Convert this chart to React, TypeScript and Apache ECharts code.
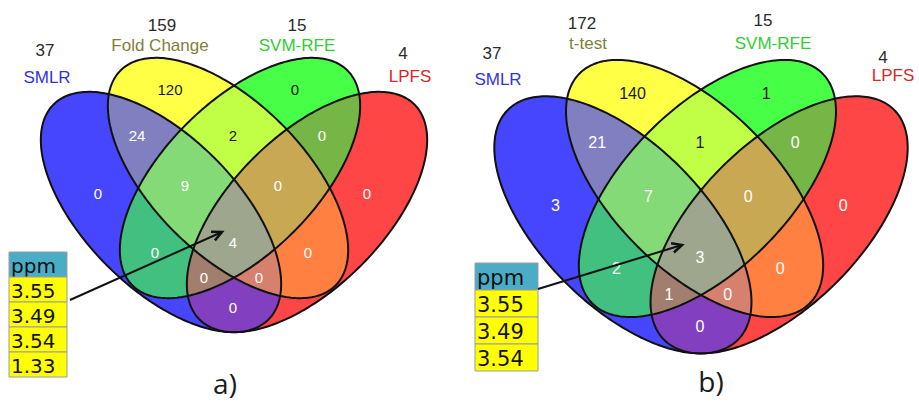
import { useEffect, useRef } from "react";
import * as echarts from "echarts";

// Membership bits: SMLR = 1, second filter = 2, SVM-RFE = 4, LPFS = 8
const regionMasks = [1, 2, 4, 8, 3, 6, 12, 5, 10, 9, 7, 14, 13, 11, 15];
const countsA = [0, 120, 0, 0, 24, 2, 0, 0, 0, 0, 9, 0, 0, 0, 4];
const countsB = [3, 140, 1, 0, 21, 1, 0, 2, 0, 0, 7, 0, 1, 0, 3];

const setNamesA = ["SMLR", "Fold Change", "SVM-RFE", "LPFS"];
const setNamesB = ["SMLR", "t-test", "SVM-RFE", "LPFS"];
const setTotalsA = [37, 159, 15, 4];
const setTotalsB = [37, 172, 15, 4];

const ppmA = ["3.55", "3.49", "3.54", "1.33"];
const ppmB = ["3.55", "3.49", "3.54"];
const tableHeader = "ppm";
const panelTags = ["a)", "b)"];

// ---- layout (base geometry in panel-a pixels) ----
const AXIS = 234;
const ELL_A = 152;
const ELL_B = 76;
const ellipses = [
  { dx: -73, cy: 212, rot: 45 },
  { dx: -6, cy: 178, rot: 45 },
  { dx: 6, cy: 178, rot: 135 },
  { dx: 73, cy: 212, rot: 135 },
];

const regionColor: Record<number, string> = {
  1: "#4646FF",
  2: "#FFFF46",
  4: "#46FF46",
  8: "#FF4646",
  3: "#8080C0",
  6: "#C0FF46",
  12: "#76B646",
  5: "#42C080",
  10: "#FF8040",
  9: "#8240C0",
  7: "#84DA76",
  14: "#C8A852",
  13: "#A27E6E",
  11: "#D6806E",
  15: "#9EA68E",
};
const darkLabelMasks = [2, 4, 6];

const regionLabelPos: Record<number, [number, number]> = {
  1: [98, 193],
  2: [170, 89],
  4: [295, 89],
  8: [367, 193],
  3: [137, 135],
  6: [233, 135],
  12: [322, 135],
  5: [155, 252],
  10: [308, 252],
  9: [233, 307],
  7: [185, 185],
  14: [278, 185],
  13: [204, 277],
  11: [259, 277],
  15: [233, 242],
};

const nameColors = ["#3232E6", "#7F7F3A", "#33CC33", "#D42A2A"];

type Pt = [number, number];

const panels = [
  {
    ox: AXIS,
    oy: 0,
    s: 1,
    counts: countsA,
    names: setNamesA,
    totals: setTotalsA,
    ppm: ppmA,
    totalPos: [[45, 50], [162, 25], [297, 25], [403, 53]] as Pt[],
    namePos: [[47, 77], [160, 45], [297, 45], [410, 76]] as Pt[],
    table: { x: 9, y: 252, w: 58, h: 25, font: 20 },
    arrow: { from: [70, 300] as Pt, to: [222, 232] as Pt },
    tag: { x: 225, y: 383 },
  },
  {
    ox: 701,
    oy: -2,
    s: 1.07,
    counts: countsB,
    names: setNamesB,
    totals: setTotalsB,
    ppm: ppmB,
    totalPos: [[492, 53], [582, 23], [763, 20], [883, 57]] as Pt[],
    namePos: [[498, 79], [588, 43], [773, 43], [893, 75]] as Pt[],
    table: { x: 475, y: 263, w: 63, h: 27, font: 21 },
    arrow: { from: [538, 289] as Pt, to: [682, 245] as Pt },
    tag: { x: 711, y: 381 },
  },
];

function ellipsePoints(cx: number, cy: number, a: number, b: number, deg: number, n = 260): Pt[] {
  const r = (deg * Math.PI) / 180;
  const c = Math.cos(r);
  const s = Math.sin(r);
  const pts: Pt[] = [];
  for (let i = 0; i < n; i++) {
    const t = (2 * Math.PI * i) / n;
    const x = a * Math.cos(t);
    const y = b * Math.sin(t);
    pts.push([cx + x * c - y * s, cy + x * s + y * c]);
  }
  return pts;
}

// Sutherland–Hodgman clipping against a convex polygon
function clipPolygon(subject: Pt[], clip: Pt[]): Pt[] {
  let out = subject;
  for (let i = 0; i < clip.length && out.length; i++) {
    const p = clip[i];
    const q = clip[(i + 1) % clip.length];
    const side = (r: Pt) => (q[0] - p[0]) * (r[1] - p[1]) - (q[1] - p[1]) * (r[0] - p[0]);
    const input = out;
    out = [];
    for (let j = 0; j < input.length; j++) {
      const cur = input[j];
      const prev = input[(j + input.length - 1) % input.length];
      const sc = side(cur);
      const sp = side(prev);
      const cross = (): Pt => {
        const t = sp / (sp - sc);
        return [prev[0] + t * (cur[0] - prev[0]), prev[1] + t * (cur[1] - prev[1])];
      };
      if (sc >= 0) {
        if (sp < 0) out.push(cross());
        out.push(cur);
      } else if (sp >= 0) {
        out.push(cross());
      }
    }
  }
  return out;
}

const bitCount = (m: number) => (m & 1) + ((m >> 1) & 1) + ((m >> 2) & 1) + ((m >> 3) & 1);

function text(x: number, y: number, str: string, fill: string, size: number, family = "Liberation Sans, Arial, sans-serif", align = "center") {
  return {
    type: "text",
    x,
    y,
    silent: true,
    style: {
      text: str,
      fill,
      fontSize: size,
      fontFamily: family,
      textAlign: align,
      textVerticalAlign: "middle",
      align,
      verticalAlign: "middle",
    },
  };
}

function buildPanel(p: (typeof panels)[number]) {
  const els: any[] = [];
  const tx = (x: number) => p.ox + (x - AXIS) * p.s;
  const ty = (y: number) => p.oy + y * p.s;

  const polys = ellipses.map((e) =>
    ellipsePoints(p.ox + e.dx * p.s, ty(e.cy), ELL_A * p.s, ELL_B * p.s, e.rot)
  );

  // filled regions, painted from single sets up to the four-way overlap
  const order = [...regionMasks].sort((a, b) => bitCount(a) - bitCount(b));
  order.forEach((mask) => {
    let poly: Pt[] | null = null;
    for (let i = 0; i < 4; i++) {
      if (!(mask & (1 << i))) continue;
      poly = poly ? clipPolygon(poly, polys[i]) : polys[i];
    }
    if (poly && poly.length > 2) {
      els.push({
        type: "polygon",
        silent: true,
        shape: { points: poly },
        style: { fill: regionColor[mask], stroke: regionColor[mask], lineWidth: 0.5 },
      });
    }
  });

  // outlines
  polys.forEach((poly) => {
    els.push({
      type: "polygon",
      silent: true,
      shape: { points: poly },
      style: { fill: "none", stroke: "#111111", lineWidth: 2 },
    });
  });

  // region counts
  regionMasks.forEach((mask, i) => {
    const [lx, ly] = regionLabelPos[mask];
    const fill = darkLabelMasks.includes(mask) ? "#1a1a1a" : "#ffffff";
    els.push(text(tx(lx), ty(ly), String(p.counts[i]), fill, 15 * p.s));
  });

  // set totals and names
  p.names.forEach((name, i) => {
    els.push(text(p.totalPos[i][0], p.totalPos[i][1], String(p.totals[i]), "#2b2b2b", 17));
    els.push(text(p.namePos[i][0], p.namePos[i][1], name, nameColors[i], 17));
  });

  // ppm table
  const t = p.table;
  const rows = [tableHeader, ...p.ppm];
  rows.forEach((label, r) => {
    els.push({
      type: "rect",
      silent: true,
      shape: { x: t.x, y: t.y + r * t.h, width: t.w, height: t.h },
      style: { fill: r === 0 ? "#4BACC6" : "#FFFF00", stroke: "#9c9c9c", lineWidth: 1 },
    });
    els.push(
      text(t.x + 2, t.y + r * t.h + t.h / 2 + 1, label, "#111111", t.font, "DejaVu Sans, Verdana, sans-serif", "left")
    );
  });

  // arrow from table to the shared region
  const { from, to } = p.arrow;
  els.push({
    type: "line",
    silent: true,
    shape: { x1: from[0], y1: from[1], x2: to[0], y2: to[1] },
    style: { stroke: "#111111", lineWidth: 2 },
  });
  const ang = Math.atan2(to[1] - from[1], to[0] - from[0]);
  const hl = 11;
  const spread = 0.45;
  els.push({
    type: "polyline",
    silent: true,
    shape: {
      points: [
        [to[0] - hl * Math.cos(ang - spread), to[1] - hl * Math.sin(ang - spread)],
        to,
        [to[0] - hl * Math.cos(ang + spread), to[1] - hl * Math.sin(ang + spread)],
      ],
    },
    style: { stroke: "#111111", lineWidth: 2.5, fill: "none" },
  });

  return els;
}

export default function App() {
  const ref = useRef<HTMLDivElement>(null);

  useEffect(() => {
    document.body.style.margin = "0";
    if (!ref.current) return;
    const chart = echarts.init(ref.current, undefined, { renderer: "svg" });
    const elements: any[] = [];
    panels.forEach((p, i) => {
      elements.push(...buildPanel(p));
      elements.push(text(p.tag.x, p.tag.y, panelTags[i], "#1a1a1a", 28, "Open Sans, Liberation Sans, sans-serif"));
    });
    chart.setOption({
      animation: false,
      backgroundColor: "#ffffff",
      graphic: { elements },
    });
    return () => chart.dispose();
  }, []);

  return <div ref={ref} style={{ width: 919, height: 404 }} />;
}
